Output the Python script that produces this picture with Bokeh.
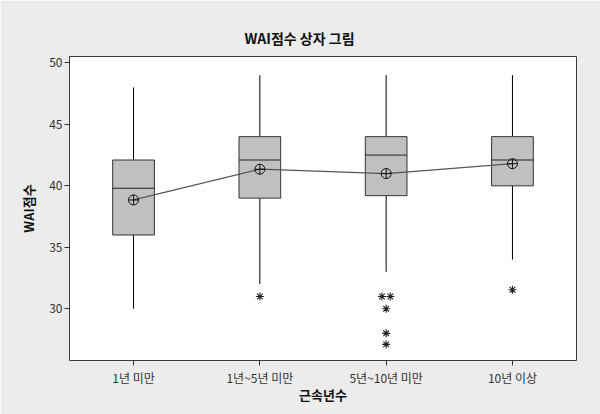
import numpy as np
from bokeh.plotting import figure
from bokeh.models import Range1d, FixedTicker
from bokeh.embed import file_html
from bokeh.resources import INLINE

# ---- data ----
categories = ["1년 미만", "1년~5년 미만", "5년~10년 미만", "10년 이상"]
whisker_low = [30, 32, 33, 34]
q1 = [36, 39, 39.2, 40]
median = [39.8, 42.1, 42.5, 42.1]
q3 = [42.1, 44, 44, 44]
whisker_high = [48, 49, 49, 49]
means = [38.85, 41.35, 41.0, 41.8]
outlier_group = [2, 3, 3, 3, 3, 3, 4]
outlier_value = [31, 31, 31, 30, 28, 27.1, 31.55]
outlier_shift = [0, -0.033, 0.033, 0, 0, 0, 0]   # side-by-side placement of tied points
y_ticks = [30, 35, 40, 45, 50]

FONT = "Noto Sans CJK KR"
BG = "#ECECEC"
BOX_W = 0.33

xs = np.arange(1, len(categories) + 1)

p = figure(width=600, height=414, output_backend="svg", toolbar_location=None,
           x_range=Range1d(0.493, 4.507), y_range=Range1d(25.79, 50.52),
           min_border_left=69, min_border_right=24, min_border_top=56, min_border_bottom=54,
           title="WAI점수 상자 그림")
p.background_fill_color = "white"
p.border_fill_color = BG
p.outline_line_color = "#3a3a3a"
p.outline_line_width = 1
p.grid.visible = False

p.title.text_font = FONT
p.title.text_font_size = "14px"
p.title.text_font_style = "bold"
p.title.text_color = "#111111"
p.title.align = "left"
p.title.offset = 175
p.title.standoff = 18

# whiskers
p.segment(x0=xs, y0=whisker_low, x1=xs, y1=q1, line_color="black", line_width=1)
p.segment(x0=xs, y0=q3, x1=xs, y1=whisker_high, line_color="black", line_width=1)
# boxes
p.vbar(x=xs, width=BOX_W, bottom=q1, top=q3, fill_color="#C0C0C0",
       line_color="#333333", line_width=1)
# medians
p.segment(x0=xs - BOX_W / 2, y0=median, x1=xs + BOX_W / 2, y1=median,
          line_color="#222222", line_width=1)
# mean connect line
p.line(x=xs, y=means, line_color="#555555", line_width=1.2)
p.scatter(x=xs, y=means, marker="circle_cross", size=10, fill_color=None,
          line_color="#111111", line_width=1)
# outliers
ox = np.array(outlier_group, dtype=float) + np.array(outlier_shift)
p.scatter(x=ox, y=outlier_value, marker="asterisk", size=8, line_color="#222222", line_width=1.1)

# axes
p.xaxis.ticker = FixedTicker(ticks=list(xs))
p.xaxis.major_label_overrides = {int(i): c for i, c in zip(xs, categories)}
p.yaxis.ticker = FixedTicker(ticks=y_ticks)
for ax in (p.xaxis[0], p.yaxis[0]):
    ax.axis_line_color = None
    ax.major_tick_line_color = "#333333"
    ax.major_tick_in = 0
    ax.major_tick_out = 5
    ax.minor_tick_line_color = None
    ax.major_label_text_font = FONT
    ax.major_label_text_font_size = "12px"
    ax.major_label_text_color = "#333333"
    ax.axis_label_text_font = FONT
    ax.axis_label_text_font_size = "13px"
    ax.axis_label_text_font_style = "bold"
    ax.axis_label_text_color = "#111111"
p.xaxis.axis_label = "근속년수"
p.yaxis.axis_label = "WAI점수"
p.xaxis.major_label_standoff = 3
p.xaxis.axis_label_standoff = -4
p.yaxis.major_label_standoff = 2
p.yaxis.axis_label_standoff = 8

open("out.html", "w").write(file_html(p, INLINE))
